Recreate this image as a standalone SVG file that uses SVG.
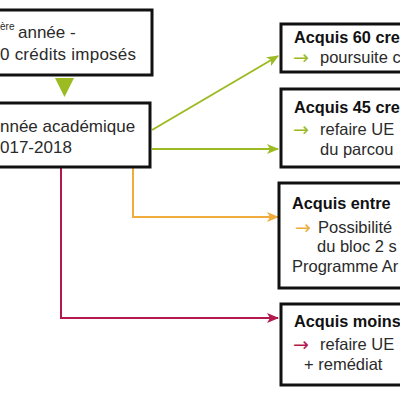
<svg xmlns="http://www.w3.org/2000/svg" width="400" height="400" viewBox="0 0 400 400">
  <defs>
    <style>
      .box { fill: #ffffff; stroke: #111111; stroke-width: 3; }
      .t { font-family: "Liberation Sans", Arial, sans-serif; fill: #2a2a2a; }
      .l { font-size: 17px; }
      .r { font-size: 16.5px; }
      .b { font-size: 16.3px; font-weight: bold; fill: #111111; }
      .sup { font-size: 10px; }
      .arw { font-family: "DejaVu Sans", sans-serif; font-size: 19px; }
      .c { fill: none; stroke-width: 2; }
      .green { stroke: #9cbb22; }
      .orange { stroke: #f0ad3c; }
      .red { stroke: #b3194d; }
      .ag { fill: #9cbb22; }
      .ao { fill: #f0ad3c; }
      .ar { fill: #b3194d; }
    </style>
    <marker id="mg" markerWidth="12" markerHeight="10" refX="11" refY="5" orient="auto" markerUnits="userSpaceOnUse">
      <path d="M0,0 L12,5 L0,10 L3,5 Z" fill="#9cbb22"/>
    </marker>
    <marker id="mo" markerWidth="12" markerHeight="10" refX="11" refY="5" orient="auto" markerUnits="userSpaceOnUse">
      <path d="M0,0 L12,5 L0,10 L3,5 Z" fill="#f0ad3c"/>
    </marker>
    <marker id="mr" markerWidth="12" markerHeight="10" refX="11" refY="5" orient="auto" markerUnits="userSpaceOnUse">
      <path d="M0,0 L12,5 L0,10 L3,5 Z" fill="#b3194d"/>
    </marker>
  </defs>
  <rect width="400" height="400" fill="#ffffff"/>

  <g id="connectors">
    <polygon points="55,78 74,78 64.5,97" fill="#9cbb22"/>
    <line class="c green" x1="152" y1="130" x2="278" y2="56" marker-end="url(#mg)"/>
    <line class="c green" x1="152" y1="149" x2="278" y2="149" marker-end="url(#mg)"/>
    <polyline class="c orange" points="133,167 133,217 278,217" marker-end="url(#mo)"/>
    <polyline class="c red" points="61,167 61,318 278,318" marker-end="url(#mr)"/>
  </g>

  <g id="node-annee1">
    <rect class="box" x="-10" y="10" width="162" height="65"/>
    <text class="t sup" x="0" y="30">ère</text>
    <text class="t l" x="18" y="38">année -</text>
    <text class="t l" x="0" y="60" textLength="136">0 crédits imposés</text>
  </g>

  <g id="node-annee-academique">
    <rect class="box" x="-10" y="103" width="160" height="64"/>
    <text class="t l" x="0" y="132">nnée académique</text>
    <text class="t l" x="0" y="153">017-2018</text>
  </g>

  <g id="node-60">
    <rect class="box" x="281" y="24" width="130" height="48"/>
    <text class="t b" x="294" y="43">Acquis 60 cre</text>
    <text class="t arw ag" x="293" y="64">→</text>
    <text class="t r" x="320" y="63">poursuite c</text>
  </g>

  <g id="node-45">
    <rect class="box" x="281" y="89" width="130" height="78"/>
    <text class="t b" x="294" y="113">Acquis 45 cre</text>
    <text class="t arw ag" x="293" y="136">→</text>
    <text class="t r" x="320" y="135">refaire UE</text>
    <text class="t r" x="320" y="155">du parcou</text>
  </g>

  <g id="node-entre">
    <rect class="box" x="279" y="183" width="130" height="105"/>
    <text class="t b" x="292" y="209">Acquis entre</text>
    <text class="t arw ao" x="295" y="234">→</text>
    <text class="t r" x="318" y="233">Possibilité</text>
    <text class="t r" x="317" y="252">du bloc 2 s</text>
    <text class="t r" x="292" y="272">Programme Ar</text>
  </g>

  <g id="node-moins">
    <rect class="box" x="281" y="304" width="130" height="81"/>
    <text class="t b" x="294" y="327">Acquis moins</text>
    <text class="t arw ar" x="293" y="351">→</text>
    <text class="t r" x="320" y="350">refaire UE</text>
    <text class="t r" x="304" y="370">+ remédiat</text>
  </g>
</svg>
